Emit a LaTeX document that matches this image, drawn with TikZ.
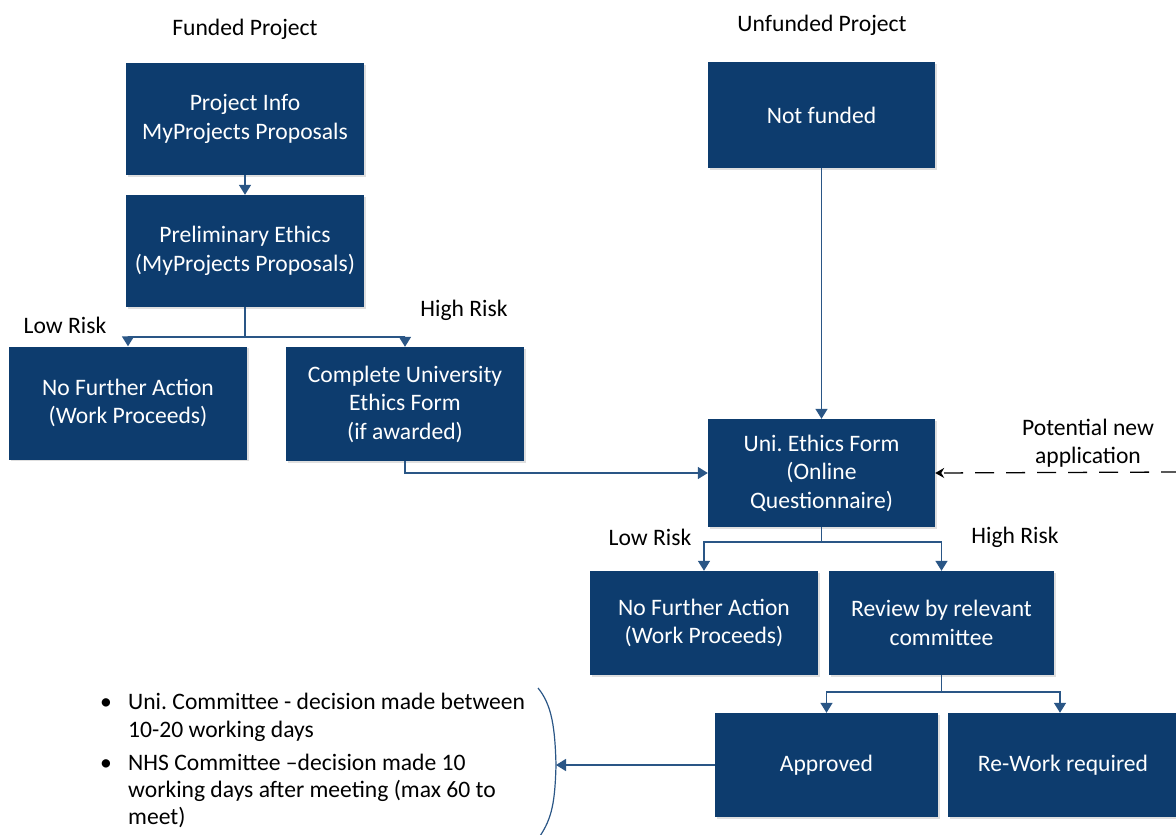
\documentclass[tikz,border=0pt]{standalone}
\usepackage{fontspec}
\setmainfont{Carlito}
\usetikzlibrary{arrows.meta,shadows}
\definecolor{navy}{HTML}{0D3C6E}
\definecolor{linkblue}{HTML}{2A5686}
\frenchspacing
\tikzset{
  box/.style={fill=navy, text=white, align=center, inner sep=2pt,
    font=\fontsize{23.6}{28.5}\selectfont,
    drop shadow={opacity=0.25, shadow xshift=1.5pt, shadow yshift=-1.5pt}},
  link/.style={draw=linkblue, line width=1.5pt},
  arr/.style={link, -{Triangle[width=12pt,length=10pt]}},
  dasharr/.style={draw=black, line width=1.3pt, dash pattern=on 19pt off 12pt,
    -{Stealth[width=10pt,length=9pt]}},
  lbl/.style={font=\fontsize{23.6}{28}\selectfont, inner sep=0pt},
  note/.style={font=\fontsize{23.6}{28}\selectfont, inner sep=0pt, anchor=base west}
}
\begin{document}
\begin{tikzpicture}[x=1pt,y=-1pt]
\useasboundingbox (0,0) rectangle (1176,835);
\clip (0,0) rectangle (1176,835);

% column headings
\node[lbl] (hfund) at (245,29) {Funded Project};
\node[lbl] (hunf) at (822,25) {Unfunded Project};

% funded branch
\node[box, minimum width=238pt, minimum height=112pt] (info) at (245,119) {Project Info\\MyProjects Proposals};
\node[box, minimum width=238pt, minimum height=112pt] (prelim) at (245,251) {Preliminary Ethics\\(MyProjects Proposals)};
\node[box, minimum width=238pt, minimum height=113pt] (nfa1) at (128,403) {No Further Action\\(Work Proceeds)};
\node[box, minimum width=238pt, minimum height=114pt] (complete) at (405,404) {Complete University\\Ethics Form\\(if awarded)};

% unfunded branch
\node[box, minimum width=227pt, minimum height=106pt] (notfunded) at (821.5,115) {Not funded};
\node[box, minimum width=227pt, minimum height=108pt] (uniform) at (821.5,473) {Uni. Ethics Form\\(Online\\Questionnaire)};
\node[box, minimum width=228pt, minimum height=104pt] (nfa2) at (704,623) {No Further Action\\(Work Proceeds)};
\node[box, minimum width=225pt, minimum height=104pt] (review) at (941.5,623) {Review by relevant\\committee};
\node[box, minimum width=223pt, minimum height=104pt] (approved) at (826.5,765) {Approved};
\node[box, minimum width=230pt, minimum height=104pt] (rework) at (1063,765) {Re-Work required};

% risk labels
\node[lbl] (low1) at (65,325) {Low Risk};
\node[lbl] (high1) at (464,310) {High Risk};
\node[lbl] (low2) at (650,537) {Low Risk};
\node[lbl] (high2) at (1015,537) {High Risk};

% potential new application
\node[lbl, align=center, font=\fontsize{23.6}{28}\selectfont] (newapp) at (1088,443) {Potential new\\application};
\coordinate (appsrc) at (1180,472);

% connectors, funded branch
\draw[arr] (info) -- (prelim);
\draw[link] (prelim.south) -- ++(0,30) coordinate (j1);
\draw[arr] (j1) -| (nfa1.north);
\draw[arr] (j1) -| (complete.north);
\draw[arr] (complete.south) |- (uniform.west);

% connectors, unfunded branch
\draw[arr] (notfunded) -- (uniform);
\draw[dasharr] (appsrc) -- (uniform.east);
\draw[link] (uniform.south) -- ++(0,15) coordinate (j2);
\draw[arr] (j2) -| (nfa2.north);
\draw[arr] (j2) -| (review.north);
\draw[link] (review.south) -- ++(0,17) coordinate (j3);
\draw[arr] (j3) -| (approved.north);
\draw[arr] (j3) -| ([xshift=-3pt]rework.north);

% bracket around the decision notes
\coordinate (bp) at (556,765);
\draw[link, line width=1.2pt] (538,688) .. controls (552,705) and (555,728) .. (bp)
      .. controls (555,802) and (552,818) .. (540,836);
\draw[arr] (approved.west) -- (bp);

% decision notes
\node[note] (b1) at (100,709) {•};
\node[note] (n1a) at (128,709) {Uni. Committee - decision made between};
\node[note] (n1b) at (128,737) {10-20 working days};
\node[note] (b2) at (100,770) {•};
\node[note] (n2a) at (128,770) {NHS Committee –decision made 10};
\node[note] (n2b) at (128,797) {working days after meeting (max 60 to};
\node[note] (n2c) at (128,824) {meet)};
\end{tikzpicture}
\end{document}
